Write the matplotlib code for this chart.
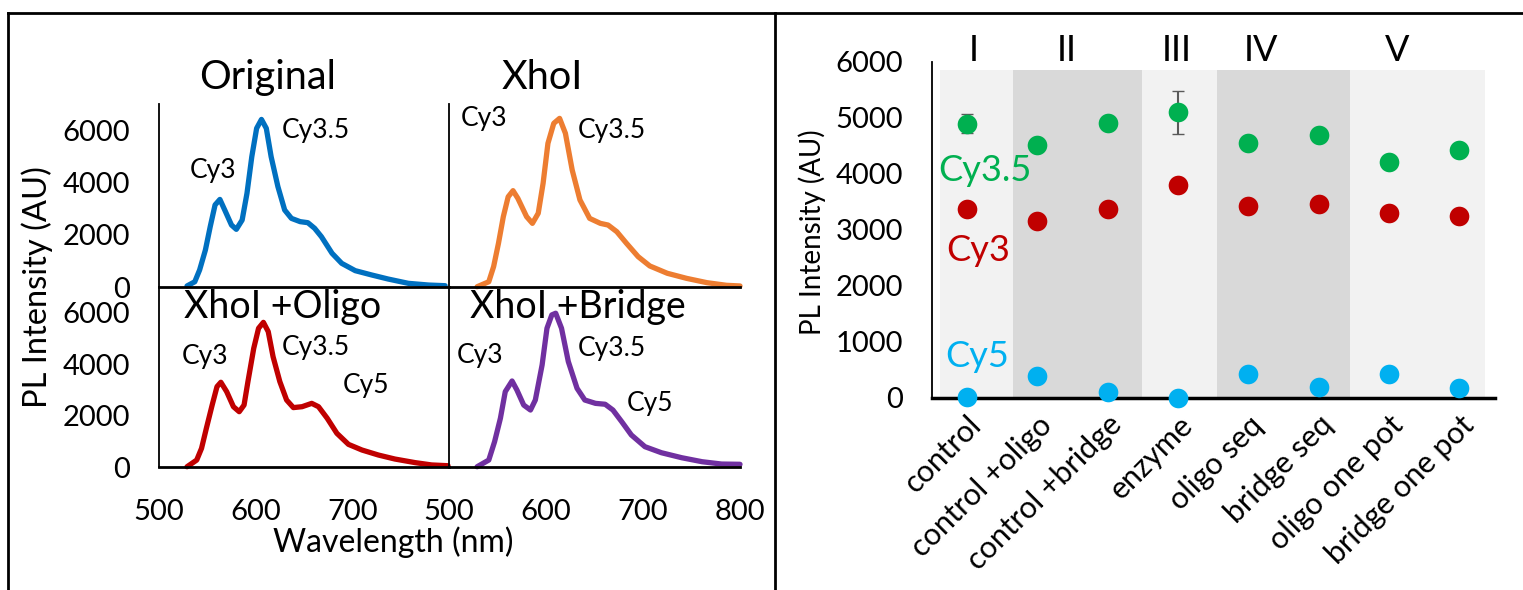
import matplotlib
matplotlib.use('Agg')
import matplotlib.pyplot as plt
from matplotlib.lines import Line2D

plt.rcParams['font.family'] = ['Lato', 'DejaVu Sans']

# spectra (wavelength nm, PL intensity AU)
wl_orig = [529, 537, 542, 548, 553, 558, 563, 568, 575, 580, 586, 591, 596, 601, 606, 611, 616,
           623, 630, 637, 646, 654, 661, 668, 679, 689, 703, 720, 737, 758, 779, 796]
pl_orig = [40, 200, 650, 1415, 2310, 3140, 3350, 2945, 2370, 2205, 2560, 3580, 4985, 6070, 6410, 6070, 4985,
           3840, 2945, 2625, 2500, 2460, 2245, 1925, 1290, 905, 625, 460, 305, 140, 75, 50]

wl_xho = [529, 541, 546, 551, 556, 561, 566, 571, 580, 586, 592, 597, 602, 608, 614, 620, 627,
          635, 645, 656, 664, 673, 683, 695, 707, 725, 745, 766, 786, 800]
pl_xho = [10, 200, 780, 1670, 2690, 3450, 3685, 3390, 2690, 2435, 2820, 3965, 5495, 6260, 6450, 5880, 4475,
          3330, 2625, 2435, 2370, 2115, 1670, 1160, 805, 525, 330, 165, 65, 40]

wl_oligo = [529, 539, 544, 549, 555, 560, 564, 570, 577, 583, 588, 592, 598, 603, 608, 613, 618,
            625, 632, 639, 648, 658, 665, 674, 684, 696, 710, 727, 744, 765, 782, 799]
pl_oligo = [10, 270, 725, 1505, 2410, 3125, 3295, 2930, 2345, 2150, 2410, 3320, 4615, 5395, 5625, 5265, 4290,
            3320, 2605, 2310, 2345, 2475, 2345, 1895, 1310, 880, 660, 465, 310, 170, 80, 50]

wl_bridge = [529, 541, 547, 553, 558, 565, 570, 577, 584, 589, 596, 601, 606, 610, 616, 623,
             632, 640, 651, 661, 669, 678, 688, 702, 719, 740, 761, 781, 800]
pl_bridge = [10, 270, 985, 1895, 2930, 3345, 2995, 2410, 2215, 2605, 3970, 5395, 5915, 5980, 5395, 4100,
             3060, 2605, 2475, 2440, 2215, 1765, 1245, 790, 555, 360, 205, 115, 105]

# right panel
samples = ['control', 'control +oligo', 'control +bridge', 'enzyme',
           'oligo seq', 'bridge seq', 'oligo one pot', 'bridge one pot']
cy35 = [4900, 4520, 4905, 5100, 4560, 4700, 4210, 4420]
cy35_err = [170, 0, 0, 380, 0, 0, 0, 0]
cy3 = [3380, 3160, 3380, 3800, 3430, 3460, 3310, 3250]
cy5 = [10, 400, 100, 0, 420, 190, 420, 175]
groups = ['I', 'II', 'III', 'IV', 'V']
group_edges = [-0.38, 0.65, 2.49, 3.56, 5.45, 7.37]
group_label_x = [0.1, 1.41, 2.98, 4.18, 6.12]

fig = plt.figure(figsize=(15.23, 5.90), dpi=100)

W, H = 1523.0, 590.0
def add_ax(x0, y0, x1, y1):
    return fig.add_axes([x0 / W, 1 - y1 / H, (x1 - x0) / W, (y1 - y0) / H])

ax_tl = add_ax(159, 104, 449, 287)
ax_tr = add_ax(449, 104, 740, 287)
ax_bl = add_ax(159, 287, 449, 467)
ax_br = add_ax(449, 287, 740, 467)

spectra = [
    (ax_tl, wl_orig, pl_orig, '#0070C0'),
    (ax_tr, wl_xho, pl_xho, '#ED7D31'),
    (ax_bl, wl_oligo, pl_oligo, '#C00000'),
    (ax_br, wl_bridge, pl_bridge, '#7030A0'),
]
for ax, x, y, c in spectra:
    ax.plot(x, y, color=c, lw=3.8, solid_joinstyle='round', solid_capstyle='round', clip_on=False)
    ax.set_xlim(500, 800)
    ax.set_ylim(0, 7000)
    for s in ['top', 'right']:
        ax.spines[s].set_visible(False)
    ax.spines['left'].set_linewidth(1.3)
    ax.spines['bottom'].set_linewidth(2)
    ax.tick_params(length=0, labelsize=21)
    ax.tick_params(axis='x', pad=23)
    ax.tick_params(axis='y', pad=21)
    ax.patch.set_alpha(0)

for ax in [ax_tl, ax_bl]:
    ax.set_yticks([0, 2000, 4000, 6000])
    ax.set_xticks([500, 600, 700])
for ax in [ax_tr, ax_br]:
    ax.set_yticks([])
    ax.set_xticks([500, 600, 700, 800])
for ax in [ax_tl, ax_tr]:
    ax.set_xticklabels([])

ax_tl.text(612, 8030, 'Original', fontsize=28.5, ha='center', va='center')
ax_tr.text(596, 8030, 'XhoI', fontsize=28.5, ha='center', va='center')
ax_bl.text(526, 6224, 'XhoI +Oligo', fontsize=27, ha='left', va='center')
ax_br.text(522, 6224, 'XhoI +Bridge', fontsize=27, ha='left', va='center')

fs = 19
ax_tl.text(556, 4475, 'Cy3', fontsize=fs, ha='center', va='center')
ax_tl.text(662, 6005, 'Cy3.5', fontsize=fs, ha='center', va='center')
ax_tr.text(536, 6464, 'Cy3', fontsize=fs, ha='center', va='center')
ax_tr.text(668, 6005, 'Cy3.5', fontsize=fs, ha='center', va='center')
ax_bl.text(548, 4279, 'Cy3', fontsize=fs, ha='center', va='center')
ax_bl.text(662, 4629, 'Cy3.5', fontsize=fs, ha='center', va='center')
ax_bl.text(714, 3151, 'Cy5', fontsize=fs, ha='center', va='center')
ax_br.text(532, 4318, 'Cy3', fontsize=fs, ha='center', va='center')
ax_br.text(668, 4590, 'Cy3.5', fontsize=fs, ha='center', va='center')
ax_br.text(707, 2450, 'Cy5', fontsize=fs, ha='center', va='center')

fig.text(37 / W, 1 - 287 / H, 'PL Intensity (AU)', rotation=90, fontsize=23.5, ha='center', va='center')
fig.text(393 / W, 1 - 542 / H, 'Wavelength (nm)', fontsize=23, ha='center', va='center')

# right panel
ax = add_ax(932, 62, 1494.5, 398)
band_top = 5850
for i in range(len(groups)):
    col = '#F2F2F2' if i % 2 == 0 else '#D9D9D9'
    ax.axvspan(group_edges[i], group_edges[i + 1], ymin=0, ymax=band_top / 6000, color=col, lw=0, zorder=0)
    ax.text(group_label_x[i], 6214, groups[i], fontsize=26, ha='center', va='center', clip_on=False)

xpos = list(range(len(samples)))
ax.errorbar(xpos, cy35, yerr=cy35_err, fmt='none', ecolor='#595959', elinewidth=1.5, capsize=4, zorder=2)
ax.scatter(xpos, cy35, s=200, color='#00B050', lw=0, zorder=3, clip_on=False)
ax.scatter(xpos, cy3, s=200, color='#C00000', lw=0, zorder=3, clip_on=False)
ax.scatter(xpos, cy5, s=200, color='#00B0F0', lw=0, zorder=3, clip_on=False)

ax.text(0.26, 4070, 'Cy3.5', color='#00B050', fontsize=26, ha='center', va='center')
ax.text(0.16, 2640, 'Cy3', color='#C00000', fontsize=26, ha='center', va='center')
ax.text(0.14, 740, 'Cy5', color='#00B0F0', fontsize=26, ha='center', va='center')

ax.set_xlim(-0.5, 7.5)
ax.set_ylim(0, 6000)
ax.set_yticks(range(0, 7000, 1000))
ax.set_xticks(xpos)
ax.set_xticklabels(samples, rotation=45, ha='right', va='top', rotation_mode='anchor', fontsize=22)
ax.tick_params(axis='y', length=0, labelsize=21, pad=21)
ax.tick_params(axis='x', length=0, pad=9)
for s in ['top', 'right']:
    ax.spines[s].set_visible(False)
ax.spines['left'].set_linewidth(1.3)
ax.spines['bottom'].set_linewidth(2.5)
ax.patch.set_alpha(0)
fig.text(812 / W, 1 - 232 / H, 'PL Intensity (AU)', rotation=90, fontsize=20, ha='center', va='center')

# panel frame lines
fig.add_artist(Line2D([7.5 / W, 7.5 / W], [0, 1 - 13 / H], color='black', lw=2))
fig.add_artist(Line2D([7.5 / W, 1], [1 - 13 / H, 1 - 13 / H], color='black', lw=2))
fig.add_artist(Line2D([775 / W, 775 / W], [0, 1 - 13 / H], color='black', lw=2))

plt.savefig('out.png', dpi=100)
